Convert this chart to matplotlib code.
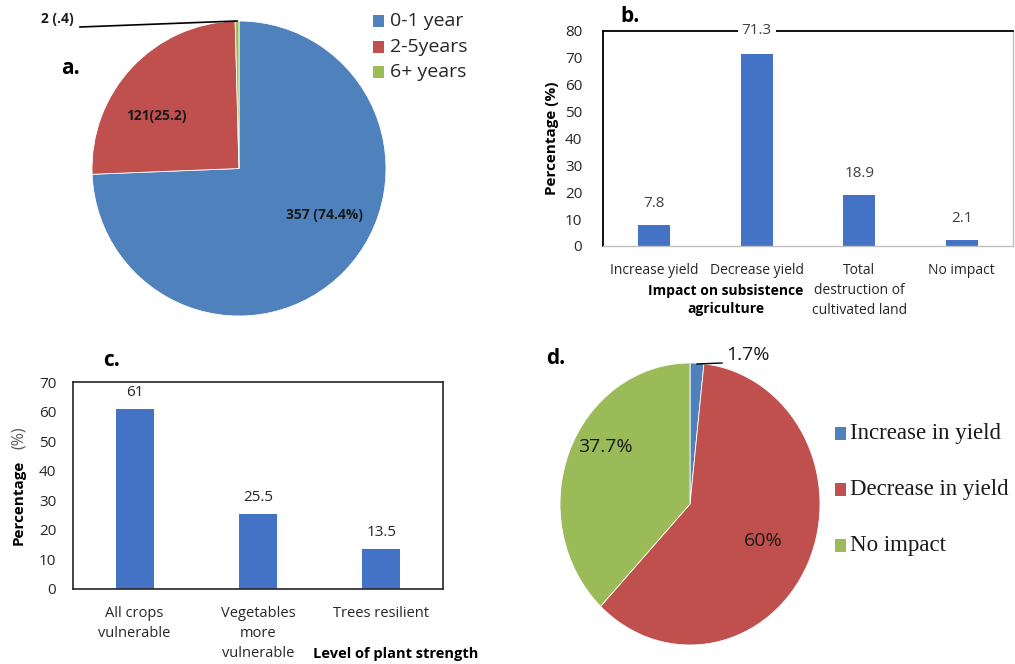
import matplotlib
matplotlib.use("Agg")
import matplotlib.pyplot as plt
from matplotlib.patches import Rectangle

# ---- data ----
age_labels = ["0-1 year", "2-5years", "6+ years"]
age_counts = [357, 121, 2]
age_texts = ["357 (74.4%)", "121(25.2)", "2 (.4)"]

impact_cats = ["Increase yield", "Decrease yield", "Total\ndestruction of\ncultivated land", "No impact"]
impact_vals = [7.8, 71.3, 18.9, 2.1]

strength_cats = ["All crops\nvulnerable", "Vegetables\nmore\nvulnerable", "Trees resilient"]
strength_vals = [61, 25.5, 13.5]

yield_labels = ["Increase in yield", "Decrease in yield", "No impact"]
yield_vals = [1.7, 60, 37.7]

BLUE = "#4F81BD"
RED = "#C0504D"
GREEN = "#9BBB59"
BAR = "#4472C4"
TXT = "#404040"
SANS = ["Open Sans", "DejaVu Sans"]
SERIF = ["Liberation Serif", "DejaVu Serif"]

W, H = 1015, 664
fig = plt.figure(figsize=(W / 100, H / 100), dpi=100)
fig.patch.set_facecolor("white")


def ax_px(x0, y0, x1, y1):
    return fig.add_axes([x0 / W, 1 - y1 / H, (x1 - x0) / W, (y1 - y0) / H])


def ftext(x, y, s, **kw):
    return fig.text(x / W, 1 - y / H, s, **kw)


# ---- panel a: pie of durations ----
axa = ax_px(92, 21, 386, 316)
axa.pie(age_counts, colors=[BLUE, RED, GREEN], startangle=90, counterclock=False,
        radius=1, wedgeprops=dict(edgecolor="white", linewidth=0.6))
axa.set_aspect("auto")
axa.set_xlim(-1, 1)
axa.set_ylim(-1, 1)
ftext(324, 215, age_texts[0], fontsize=10, fontweight="bold", family=SANS,
      ha="center", va="center", color="#1a1a1a")
ftext(156, 116, age_texts[1], fontsize=10, fontweight="bold", family=SANS,
      ha="center", va="center", color="#1a1a1a")
ftext(57, 19, age_texts[2], fontsize=10, fontweight="bold", family=SANS,
      ha="center", va="center", color="#1a1a1a")
fig.add_artist(plt.Line2D([80 / W, 237 / W], [1 - 27 / H, 1 - 21 / H],
                          color="black", lw=1.2))
ftext(70, 68, "a.", fontsize=15, fontweight="bold", family=SANS, ha="center", va="center")
for i, lab in enumerate(age_labels):
    y = 21 + i * 25.5
    fig.add_artist(Rectangle((373 / W, 1 - (y + 6) / H), 11 / W, 12 / H,
                             facecolor=[BLUE, RED, GREEN][i], edgecolor="none"))
    ftext(390, y, lab, fontsize=14, family=SANS, ha="left", va="center", color="#262626")

# ---- panel b: impact on subsistence agriculture ----
axb = ax_px(603, 31, 1013, 246)
xb = range(len(impact_vals))
axb.bar(xb, impact_vals, width=0.31, color=BAR)
axb.set_xlim(-0.5, len(impact_vals) - 0.5)
axb.set_ylim(0, 80)
axb.set_yticks(range(0, 81, 10))
axb.set_xticks(list(xb))
axb.set_xticklabels(impact_cats, fontsize=10, family=SANS, color="#262626", linespacing=1.45)
axb.tick_params(axis="y", labelsize=11, colors="#262626", length=0, pad=15)
axb.tick_params(axis="x", length=0, pad=12)
for lab in axb.get_yticklabels():
    lab.set_family(SANS)
for s in ["left", "top"]:
    axb.spines[s].set_color("black")
    axb.spines[s].set_linewidth(1.3)
for s in ["bottom", "right"]:
    axb.spines[s].set_color("#BFBFBF")
    axb.spines[s].set_linewidth(1.0)
for x, v in zip(xb, impact_vals):
    ty = v + 8 if v < 60 else 80
    axb.text(x, ty, f"{v}", ha="center", va="center", fontsize=11, family=SANS,
             color=TXT, bbox=dict(facecolor="white", edgecolor="none", pad=3),
             clip_on=False)
axb.set_ylabel("Percentage (%)", fontsize=11, fontweight="bold", family=SANS, labelpad=4)
ftext(726, 300, "Impact on subsistence\nagriculture", fontsize=10, fontweight="bold",
      family=SANS, ha="center", va="center", linespacing=1.45)
ftext(630, 16, "b.", fontsize=15, fontweight="bold", family=SANS, ha="center", va="center")

# ---- panel c: level of plant strength ----
axc = ax_px(73, 382, 443, 589)
xc = range(len(strength_vals))
axc.bar(xc, strength_vals, width=0.31, color=BAR)
axc.set_xlim(-0.5, len(strength_vals) - 0.5)
axc.set_ylim(0, 70)
axc.set_yticks(range(0, 71, 10))
axc.set_xticks(list(xc))
axc.set_xticklabels(strength_cats, fontsize=10.5, family=SANS, color="#262626",
                    va="top", linespacing=1.45)
axc.tick_params(axis="y", labelsize=11, colors="#262626", length=0, pad=12)
axc.tick_params(axis="x", length=0, pad=12)
for lab in axc.get_yticklabels():
    lab.set_family(SANS)
for s in axc.spines.values():
    s.set_color("#262626")
    s.set_linewidth(1.2)
for x, v in zip(xc, strength_vals):
    axc.text(x, v + 5.5, f"{v:g}", ha="center", va="center", fontsize=11,
             family=SANS, color="#262626")
ftext(19, 502, "Percentage", fontsize=11, fontweight="bold", family=SANS,
      rotation=90, ha="center", va="center")
ftext(19, 438, "(%)", fontsize=11.5, family=SANS, color="#595959",
      rotation=90, ha="center", va="center")
ftext(396, 654, "Level of plant strength", fontsize=10.5, fontweight="bold",
      family=SANS, ha="center", va="center")
ftext(112, 360, "c.", fontsize=15, fontweight="bold", family=SANS, ha="center", va="center")

# ---- panel d: yield impact pie ----
axd = ax_px(560, 363, 820, 645)
axd.pie(yield_vals, colors=[BLUE, RED, GREEN], startangle=90, counterclock=False,
        radius=1, wedgeprops=dict(edgecolor="white", linewidth=0.6))
axd.set_aspect("auto")
axd.set_xlim(-1, 1)
axd.set_ylim(-1, 1)
ftext(763, 541, f"{yield_vals[1]:g}%", fontsize=14, family=SANS, ha="center",
      va="center", color="#1a1a1a")
ftext(605, 447, f"{yield_vals[2]:g}%", fontsize=14, family=SANS, ha="center",
      va="center", color="#1a1a1a")
ftext(748, 355, f"{yield_vals[0]:g}%", fontsize=14, family=SANS, ha="center",
      va="center", color="#1a1a1a")
fig.add_artist(plt.Line2D([697 / W, 722 / W], [1 - 364 / H, 1 - 363 / H],
                          color="black", lw=1.0))
ftext(556, 358, "d.", fontsize=15, fontweight="bold", family=SANS, ha="center", va="center")
for i, lab in enumerate(yield_labels):
    y = 433 + i * 56
    fig.add_artist(Rectangle((835 / W, 1 - (y + 6.5) / H), 11 / W, 13 / H,
                             facecolor=[BLUE, RED, GREEN][i], edgecolor="none"))
    ftext(850, y, lab, fontsize=16.5, family=SERIF, ha="left", va="center", color="#1a1a1a")

fig.savefig("out.png", dpi=100, facecolor="white")
